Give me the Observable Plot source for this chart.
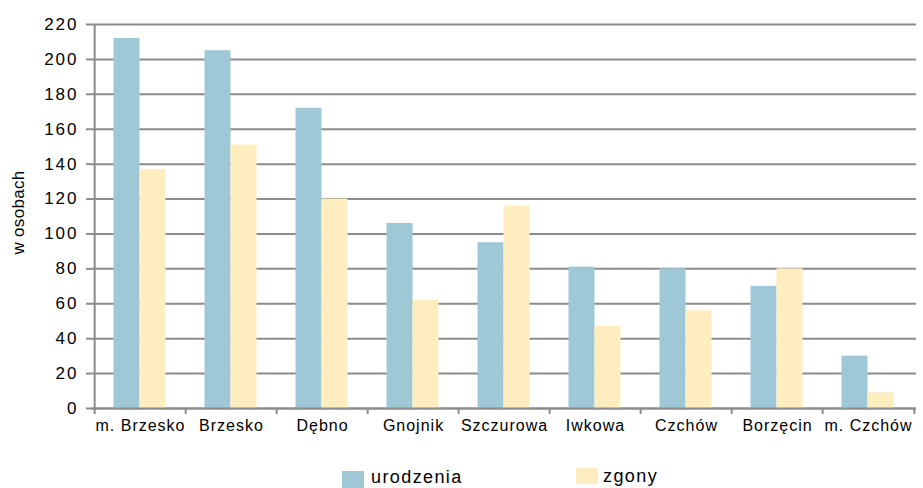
<!DOCTYPE html>
<html>
<head>
<meta charset="utf-8">
<script src="https://cdn.jsdelivr.net/npm/d3@7"></script>
<script src="https://cdn.jsdelivr.net/npm/@observablehq/plot@0.6"></script>
<style>
  html, body { margin: 0; padding: 0; background: #fff; }
  #wrap { position: relative; width: 923px; height: 488px; overflow: hidden; font-family: "Liberation Sans", Arial, sans-serif; }
  .leg-sw { position: absolute; width: 22px; }
  .leg-tx { position: absolute; font-size: 18px; line-height: 18px; letter-spacing: 1.4px; color: #000; white-space: nowrap; }
</style>
</head>
<body>
<div id="wrap"></div>
<script>
const categories = ["m. Brzesko", "Brzesko", "Dębno", "Gnojnik", "Szczurowa", "Iwkowa", "Czchów", "Borzęcin", "m. Czchów"];
const urodzenia = [212, 205, 172, 106, 95, 81, 80, 70, 30];
const zgony = [137, 151, 120, 62, 116, 47, 56, 80, 9];
const seriesNames = ["urodzenia", "zgony"];
const yTicks = [0, 20, 40, 60, 80, 100, 120, 140, 160, 180, 200, 220];
const yLabel = "w osobach";

const blue = "#9fc8d6";
const yellow = "#fdedbf";
const gray = "#8c8c8c";

const dataU = categories.map((c, i) => ({category: c, value: urodzenia[i]}));
const dataZ = categories.map((c, i) => ({category: c, value: zgony[i]}));

const half = 825 / 9 / 2;

const chart = Plot.plot({
  width: 923,
  height: 445,
  marginLeft: 91,
  marginRight: 7,
  marginTop: 24,
  marginBottom: 37,
  style: {fontFamily: "'Liberation Sans', Arial, sans-serif", color: "#000", background: "#fff", overflow: "visible"},
  x: {domain: categories, paddingInner: 0.716, paddingOuter: 0.358, label: null},
  y: {domain: [0, 220], label: null},
  marks: [
    Plot.gridY(yTicks, {stroke: gray, strokeOpacity: 1, strokeWidth: 2}),
    Plot.barY(dataU, {x: "category", y: "value", fill: blue, dx: -13.5}),
    Plot.barY(dataZ, {x: "category", y: "value", fill: yellow, dx: 12.5}),
    Plot.ruleY([0], {stroke: gray, strokeWidth: 2}),
    Plot.ruleX([categories[0]], {x: d => d, y1: 0, y2: 220, dx: -half, stroke: gray, strokeWidth: 2}),
    Plot.ruleX(categories, {x: d => d, y1: 0, y2: 0, insetBottom: -6, dx: -half, stroke: gray, strokeWidth: 2}),
    Plot.ruleX([categories[categories.length - 1]], {x: d => d, y1: 0, y2: 0, insetBottom: -6, dx: half, stroke: gray, strokeWidth: 2}),
    Plot.axisY(yTicks, {tickSize: 5, tickPadding: 8, stroke: gray, strokeWidth: 2, fontSize: 17, label: null}),
    Plot.axisX({tickSize: 0, tickPadding: 11, fontSize: 16, label: null}),
    Plot.text([yLabel], {frameAnchor: "left", textAnchor: "middle", lineAnchor: "middle", rotate: -90, dx: -72.5, dy: -4, fontSize: 17, fill: "#000"})
  ]
});

d3.select(chart).selectAll('g[aria-label="y-axis tick label"] text').style("letter-spacing", "2px");
d3.select(chart).selectAll('g[aria-label="x-axis tick label"] text').style("letter-spacing", "1px");
d3.select(chart).selectAll('g[aria-label="text"] text').style("font-size", "17px").style("letter-spacing", "0.3px");

const wrap = document.getElementById("wrap");
wrap.appendChild(chart);

// legend
const legendItems = [
  {name: seriesNames[0], color: blue, swLeft: 342, swTop: 471, swH: 17, txLeft: 371, txTop: 468},
  {name: seriesNames[1], color: yellow, swLeft: 576, swTop: 468, swH: 16, txLeft: 603, txTop: 467}
];
for (const it of legendItems) {
  const sw = document.createElement("div");
  sw.className = "leg-sw";
  sw.style.left = it.swLeft + "px";
  sw.style.top = it.swTop + "px";
  sw.style.height = it.swH + "px";
  sw.style.background = it.color;
  wrap.appendChild(sw);
  const tx = document.createElement("div");
  tx.className = "leg-tx";
  tx.style.left = it.txLeft + "px";
  tx.style.top = it.txTop + "px";
  tx.textContent = it.name;
  wrap.appendChild(tx);
}
</script>
</body>
</html>
